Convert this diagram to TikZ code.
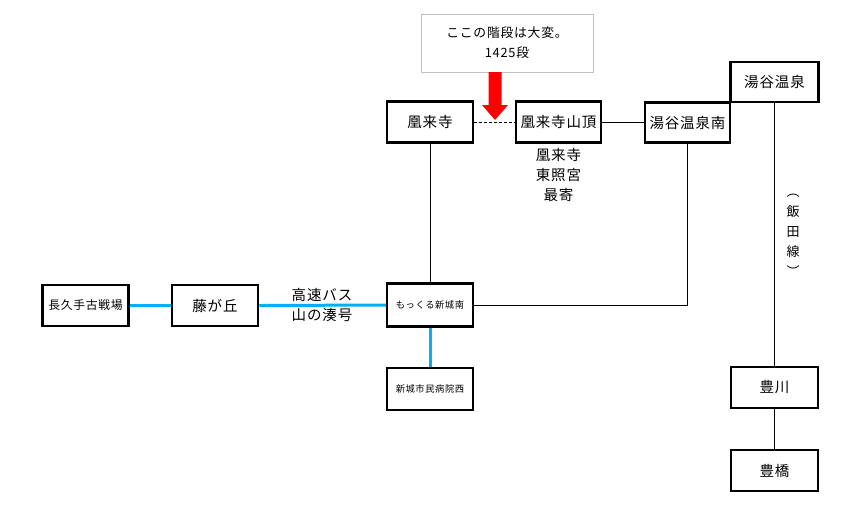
\documentclass[tikz,border=0pt]{standalone}
\usepackage{fontspec}
\setmainfont{Noto Sans CJK JP}[LetterSpace=6]
\definecolor{busblue}{HTML}{00B0F0}
\definecolor{calloutgray}{HTML}{BFBFBF}
\tikzset{
  stbox/.style={draw=black, line width=2.5pt, minimum width=86pt, minimum height=41pt, inner sep=0pt, font=\fontsize{14.5}{16}\selectfont},
  smalltxt/.style={font=\fontsize{9.3}{12}\selectfont},
  midtxt/.style={font=\fontsize{11.8}{14}\selectfont},
  thinline/.style={draw=black, line width=1pt},
  busline/.style={draw=busblue, line width=3pt},
  label14/.style={font=\fontsize{14.5}{20}\selectfont, align=center, inner sep=0pt},
  vtxt/.style={font=\fontsize{13}{20}\selectfont, inner sep=0pt},
}
\begin{document}
\begin{tikzpicture}[x=1pt,y=-1pt]
\useasboundingbox[fill=white] (0,0) rectangle (861,512);
% callout
\node[draw=calloutgray, line width=1pt, minimum width=172pt, minimum height=58pt, align=center, inner sep=0pt,
      font=\fontsize{12.8}{20}\selectfont] (callout) at (507,43) {ここの階段は大変。\\1425段};
% stations
\node[stbox] (horaiji) at (430,122) {凰来寺};
\node[stbox, minimum width=85pt] (sancho) at (558.5,122) {凰来寺山頂};
\node[stbox, minimum width=85pt, minimum height=40pt] (yuyas) at (687.5,122.5) {湯谷温泉南};
\node[stbox, minimum width=88pt, minimum height=40pt] (yuya) at (774.5,82) {湯谷温泉};
\node[stbox, smalltxt, minimum height=43pt] (mokkuru) at (430,305) {もっくる新城南};
\node[stbox, smalltxt, minimum height=42pt] (byoin) at (430,389) {新城市民病院西};
\node[stbox, midtxt] (nagakute) at (85.5,305.5) {長久手古戦場};
\node[stbox] (fujigaoka) at (215,305.5) {藤が丘};
\node[stbox, minimum width=87pt] (toyokawa) at (774.5,387.5) {豊川};
\node[stbox, minimum width=87pt] (toyohashi) at (774.5,470.5) {豊橋};
% labels
\node[label14] (toshogu) at (558.5,175) {凰来寺\\東照宮\\最寄};
\node[label14] (bus) at (322,305) {高速バス\\山の湊号};
\node[vtxt, align=center] (iida) at (793,235) {︵\\飯\\田\\線\\︶};
% connectors
\draw[thinline, dash pattern=on 3pt off 2pt] (horaiji.east) -- (sancho.west);
\draw[thinline] (sancho.east) -- (sancho.east -| yuyas.west);
\draw[thinline] (horaiji.south) -- (mokkuru.north);
\draw[thinline] (yuyas.south) |- (mokkuru.east);
\draw[thinline] (yuya.south) -- (toyokawa.north);
\draw[thinline] (toyokawa.south) -- (toyohashi.north);
\draw[busline] (mokkuru.south) -- (byoin.north);
\draw[busline] (nagakute.east) -- (fujigaoka.west);
\draw[busline] (fujigaoka.east) -- (mokkuru.west);
% red arrow
\fill[red] (488.5,72) -- (501.5,72) -- (501.5,105) -- (508,105) -- (495,120) -- (482,105) -- (488.5,105) -- cycle;
\end{tikzpicture}
\end{document}
